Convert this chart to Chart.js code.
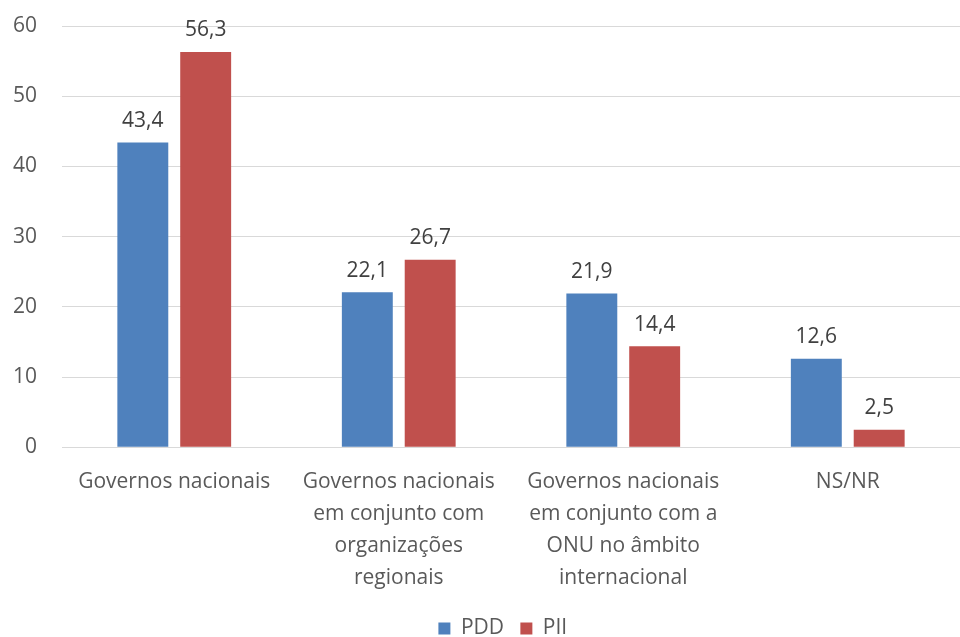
<!DOCTYPE html>
<html>
<head>
<meta charset="utf-8">
<script src="https://cdn.jsdelivr.net/npm/chart.js@4/dist/chart.umd.min.js"></script>
<style>
  html, body { margin: 0; padding: 0; background: #fff; }
  #wrap { width: 960px; height: 637px; }
</style>
</head>
<body>
<div id="wrap"><canvas id="chart"></canvas></div>
<script>
const categories = [
    'Governos nacionais',
    ['Governos nacionais', 'em conjunto com', 'organizações', 'regionais'],
    ['Governos nacionais', 'em conjunto com a', 'ONU no âmbito', 'internacional'],
    'NS/NR',
]
const pdd = [43.4, 22.1, 21.9, 12.6]
const pii = [56.3, 26.7, 14.4, 2.5]
const yTicks = [0, 10, 20, 30, 40, 50, 60]

const FONT = "'Open Sans', 'Noto Sans', sans-serif"

// value labels above each bar, with decimal comma
const valueLabels = {
    id: 'valueLabels',
    afterDatasetsDraw(chart) {
        const ctx = chart.ctx
        ctx.save()
        ctx.font = '21px ' + FONT
        ctx.fillStyle = '#404040'
        ctx.textAlign = 'center'
        ctx.textBaseline = 'bottom'
        chart.data.datasets.forEach((ds, i) => {
            chart.getDatasetMeta(i).data.forEach((bar, j) => {
                ctx.fillText(ds.data[j].toFixed(1).replace('.', ','), bar.x, bar.y - 11)
            })
        })
        ctx.restore()
    },
}

const draw_chart = () => {
    const ctx = document.getElementById('chart')

    new Chart(ctx, {
        type: 'bar',
        data: {
            labels: categories,
            datasets: [{
                label: 'PDD',
                data: pdd,
                backgroundColor: '#4f81bd',
                categoryPercentage: 0.56,
                barPercentage: 0.81,
            }, {
                label: 'PII',
                data: pii,
                backgroundColor: '#c0504d',
                categoryPercentage: 0.56,
                barPercentage: 0.81,
            }],
        },
        options: {
            responsive: true,
            maintainAspectRatio: false,
            animation: false,
            layout: { padding: { top: 26, right: 0, left: 0, bottom: -12 } },
            plugins: {
                tooltip: { enabled: false },
                legend: {
                    position: 'bottom',
                    fullSize: false,
                    labels: {
                        font: { family: FONT, size: 21 },
                        color: '#595959',
                        boxWidth: 12,
                        boxHeight: 12,
                        padding: 0,
                        // spacing between the two entries comes from trailing spaces
                        generateLabels: (chart) => Chart.defaults.plugins.legend.labels.generateLabels(chart)
                            .map(item => ({ ...item, text: item.text + '   ' })),
                    },
                },
            },
            scales: {
                x: {
                    afterFit: (axis) => { axis.height += 13 },
                    grid: { display: false },
                    border: { color: '#d9d9d9', width: 1 },
                    ticks: {
                        font: { family: FONT, size: 21, lineHeight: 1.52 },
                        color: '#595959',
                        maxRotation: 0,
                        autoSkip: false,
                        padding: 11,
                    },
                },
                y: {
                    min: 0,
                    max: 60,
                    afterBuildTicks: (axis) => { axis.ticks = yTicks.map(v => ({ value: v })) },
                    afterFit: (axis) => {
                        axis.width = 62
                        axis.paddingTop = 0
                    },
                    grid: { color: '#d9d9d9', drawTicks: false },
                    border: { display: false },
                    ticks: {
                        font: { family: FONT, size: 21 },
                        color: '#595959',
                        padding: 25,
                    },
                },
            },
        },
        plugins: [valueLabels],
    })
}

draw_chart()
</script>
</body>
</html>
